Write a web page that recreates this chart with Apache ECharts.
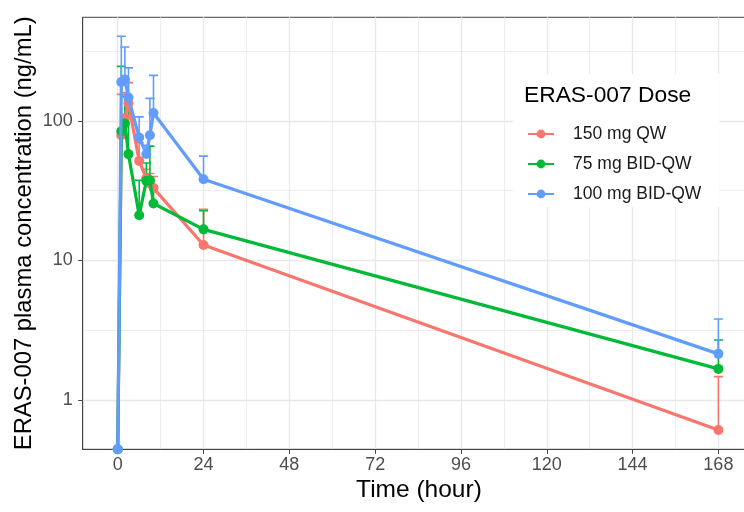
<!DOCTYPE html>
<html>
<head>
<meta charset="utf-8">
<script src="https://cdn.jsdelivr.net/npm/echarts@6/dist/echarts.min.js"></script>
<style>
  html, body { margin: 0; padding: 0; background: #fff; }
  #chart { width: 744px; height: 512px; }
</style>
</head>
<body>
<div id="chart"></div>
<script>
// Sampling times (hours after first dose)
const timeHours = [0, 1, 2, 3, 6, 8, 9, 10, 24, 168];

const doseGroups = ['150 mg QW', '75 mg BID-QW', '100 mg BID-QW'];
const groupColors = ['#F8766D', '#00BA38', '#619CFF'];

// Mean plasma concentration, ng/mL (0 = below quantification at predose)
const mean150 = [0, 79, 105, 134, 51.7, 38.8, 35.6, 33, 12.9, 0.61];
const mean75 = [0, 84.4, 95.8, 57.8, 21.1, 37.2, 37.6, 25.6, 16.7, 1.67];
const mean100 = [0, 190, 198, 147, 76, 58, 79, 114, 38.2, 2.14];

// Mean + SD, ng/mL
const upper150 = [null, 155, 160, 188, 70, 45, 42, 40, 23.3, 1.47];
const upper75 = [null, 246, 150, 133, 37.6, 50, 66, 34.3, 22.7, 2.69];
const upper100 = [null, 404, 339, 240, 107, 67, 145, 212, 55.9, 3.8];

// Axis ticks
const xTicks = [0, 24, 48, 72, 96, 120, 144, 168];
const xMinorTicks = [12, 36, 60, 84, 108, 132, 156];
const yTicks = [1, 10, 100];
const yTickLabels = ['1', '10', '100'];
const yMinorTicks = [3.162, 31.62, 316.2];

const xRange = [-9.8, 178.3];
const yRange = [0.443, 553];
const capWidthHours = 2.55;

const FONT = '"Liberation Sans", Arial, Helvetica, sans-serif';
const GRID_MAJOR = '#E8E8E8';
const AXIS_DARK = '#444444';

const means = [mean150, mean75, mean100];
const uppers = [upper150, upper75, upper100];

function lineSeries(idx) {
  const color = groupColors[idx];
  return {
    type: 'line',
    name: doseGroups[idx],
    // values below the axis floor sit on the bottom edge of the panel
    data: timeHours.map((t, i) => [t, Math.max(means[idx][i], yRange[0])]),
    symbol: 'circle',
    symbolSize: 10,
    showSymbol: true,
    clip: true,
    z: 3 + idx,
    lineStyle: { color: color, width: 3.2 },
    itemStyle: { color: color },
    emphasis: { disabled: true },
    animation: false
  };
}

function errorBarSeries(idx) {
  const color = groupColors[idx];
  const data = [];
  timeHours.forEach((t, i) => {
    if (uppers[idx][i] != null) data.push([t, means[idx][i], uppers[idx][i]]);
  });
  return {
    type: 'custom',
    name: doseGroups[idx] + ' SD',
    data: data,
    z: 2,
    silent: true,
    clip: true,
    encode: { x: 0, y: [1, 2] },
    renderItem: function (params, api) {
      const t = api.value(0);
      const base = api.coord([t, api.value(1)]);
      const top = api.coord([t, api.value(2)]);
      const left = api.coord([t - capWidthHours / 2, api.value(2)]);
      const right = api.coord([t + capWidthHours / 2, api.value(2)]);
      const style = { stroke: color, lineWidth: 1.6 };
      return {
        type: 'group',
        children: [
          { type: 'line', shape: { x1: base[0], y1: base[1], x2: top[0], y2: top[1] }, style: style },
          { type: 'line', shape: { x1: left[0], y1: top[1], x2: right[0], y2: top[1] }, style: style }
        ]
      };
    },
    animation: false
  };
}

const chart = echarts.init(document.getElementById('chart'), null, { renderer: 'canvas' });

chart.setOption({
  backgroundColor: '#ffffff',
  animation: false,
  textStyle: { fontFamily: FONT },
  title: {
    text: 'ERAS-007 Dose',
    left: 524,
    top: 84,
    padding: 0,
    textStyle: { fontFamily: FONT, fontSize: 22.8, fontWeight: 'normal', color: '#000000' }
  },
  legend: {
    data: doseGroups,
    orient: 'vertical',
    left: 513,
    top: 74,
    padding: [50, 18, 3, 14],
    itemGap: 10,
    itemWidth: 26,
    itemHeight: 11,
    backgroundColor: '#ffffff',
    selectedMode: false,
    textStyle: { fontFamily: FONT, fontSize: 17.5, lineHeight: 20, color: '#1A1A1A', padding: [0, 0, 0, 14] }
  },
  grid: {
    left: 82.7,
    top: 17.3,
    right: -11.2,
    bottom: 62.7,
    containLabel: false,
    outerBoundsMode: 'none',
    show: true,
    backgroundColor: '#ffffff',
    borderColor: AXIS_DARK,
    borderWidth: 1
  },
  xAxis: [
    {
      type: 'value',
      min: xRange[0],
      max: xRange[1],
      position: 'bottom',
      name: 'Time (hour)',
      nameLocation: 'middle',
      nameGap: 28,
      nameMoveOverlap: false,
      nameTextStyle: { fontFamily: FONT, fontSize: 24.5, color: '#000000' },
      axisLine: { show: true, onZero: false, lineStyle: { color: AXIS_DARK, width: 1 } },
      axisTick: { show: true, length: 4.5, customValues: xTicks, lineStyle: { color: AXIS_DARK, width: 1 } },
      axisLabel: { customValues: xTicks, color: '#4D4D4D', fontSize: 18, fontFamily: FONT, margin: 7 },
      splitLine: { show: true, lineStyle: { color: GRID_MAJOR, width: 1.3 } }
    },
    {
      type: 'value',
      min: xRange[0],
      max: xRange[1],
      position: 'top',
      axisLine: { show: false, onZero: false },
      axisTick: { show: false, customValues: xMinorTicks },
      axisLabel: { show: false, customValues: xMinorTicks },
      splitLine: { show: true, lineStyle: { color: GRID_MAJOR, width: 0.8 } }
    }
  ],
  yAxis: [
    {
      type: 'log',
      logBase: 10,
      min: yRange[0],
      max: yRange[1],
      position: 'left',
      name: 'ERAS-007 plasma concentration (ng/mL)',
      nameLocation: 'middle',
      nameGap: 46,
      nameMoveOverlap: false,
      nameRotate: 90,
      nameTextStyle: { fontFamily: FONT, fontSize: 23.8, color: '#000000' },
      axisLine: { show: true, onZero: false, lineStyle: { color: AXIS_DARK, width: 1 } },
      axisTick: { show: true, length: 4.5, customValues: yTicks, lineStyle: { color: AXIS_DARK, width: 1 } },
      axisLabel: {
        customValues: yTicks,
        color: '#4D4D4D',
        fontSize: 18,
        fontFamily: FONT,
        margin: 10,
        formatter: function (v) {
          const i = yTicks.findIndex(function (t) { return Math.abs(Math.log10(t) - Math.log10(v)) < 1e-6; });
          return i >= 0 ? yTickLabels[i] : '';
        }
      },
      splitLine: { show: true, lineStyle: { color: GRID_MAJOR, width: 1.3 } }
    },
    {
      type: 'log',
      logBase: 10,
      min: yRange[0],
      max: yRange[1],
      position: 'right',
      axisLine: { show: false, onZero: false },
      axisTick: { show: false, customValues: yMinorTicks },
      axisLabel: { show: false, customValues: yMinorTicks },
      splitLine: { show: true, lineStyle: { color: GRID_MAJOR, width: 0.8 } }
    }
  ],
  series: [
    lineSeries(0), lineSeries(1), lineSeries(2),
    errorBarSeries(0), errorBarSeries(1), errorBarSeries(2)
  ]
});
</script>
</body>
</html>
